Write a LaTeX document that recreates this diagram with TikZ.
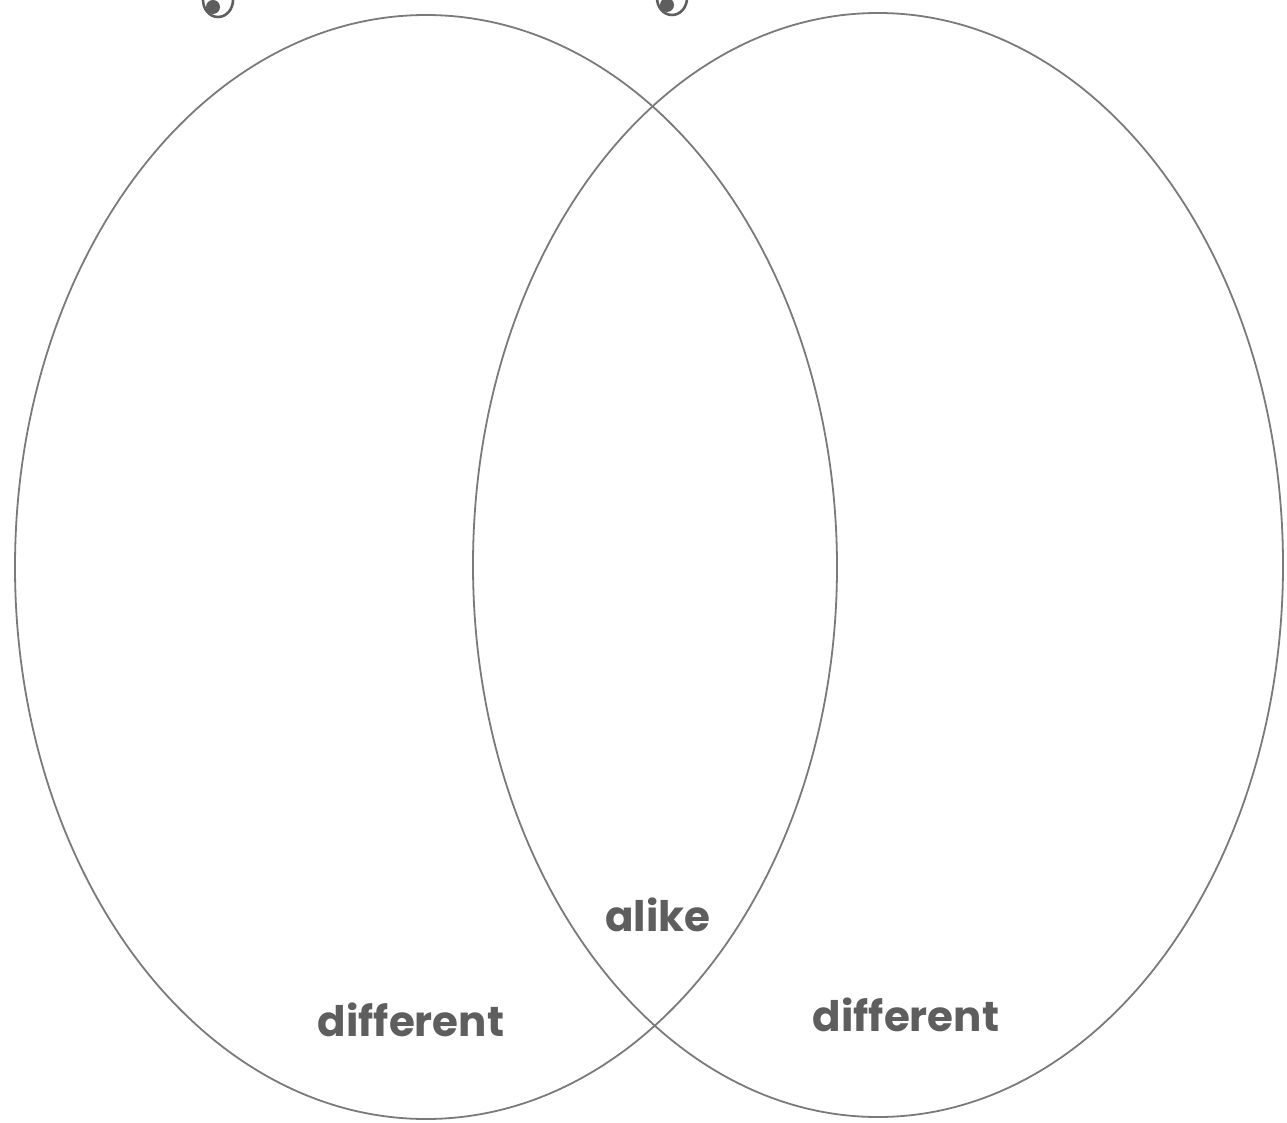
\documentclass[tikz,border=0pt]{standalone}
\usepackage{fontspec}
\setmainfont{Poppins}
\usetikzlibrary{shapes.geometric}
\definecolor{linegray}{HTML}{7A7A7A}
\definecolor{textgray}{HTML}{5E5E5E}
\begin{document}
\begin{tikzpicture}[x=1pt,y=-1pt,
  venn/.style={draw=linegray, line width=1.8pt, ellipse, inner sep=0pt, outer sep=0pt},
  lbl/.style={text=textgray, font=\fontsize{42}{46}\selectfont\bfseries, inner sep=0pt},
  curl/.style={draw=textgray, line width=2.6pt}]
\useasboundingbox (0,0) rectangle (1287,1123);
\node[venn, minimum width=822pt, minimum height=1104pt] (L) at (426,567) {};
\node[venn, minimum width=810pt, minimum height=1104pt] (R) at (878,565) {};
\node[lbl] (alike) at (658,915) {alike};
\node[lbl] (dl) at (411,1020) {different};
\node[lbl] (dr) at (906,1015) {different};
% cut-off glyph bottoms at top edge
\fill[textgray] (213,7) circle (7);
\draw[curl] (203,0) arc (180:0:15 and 17);
\fill[textgray] (667,5) circle (7);
\draw[curl] (657,-2) arc (180:0:15 and 17);
\end{tikzpicture}
\end{document}
